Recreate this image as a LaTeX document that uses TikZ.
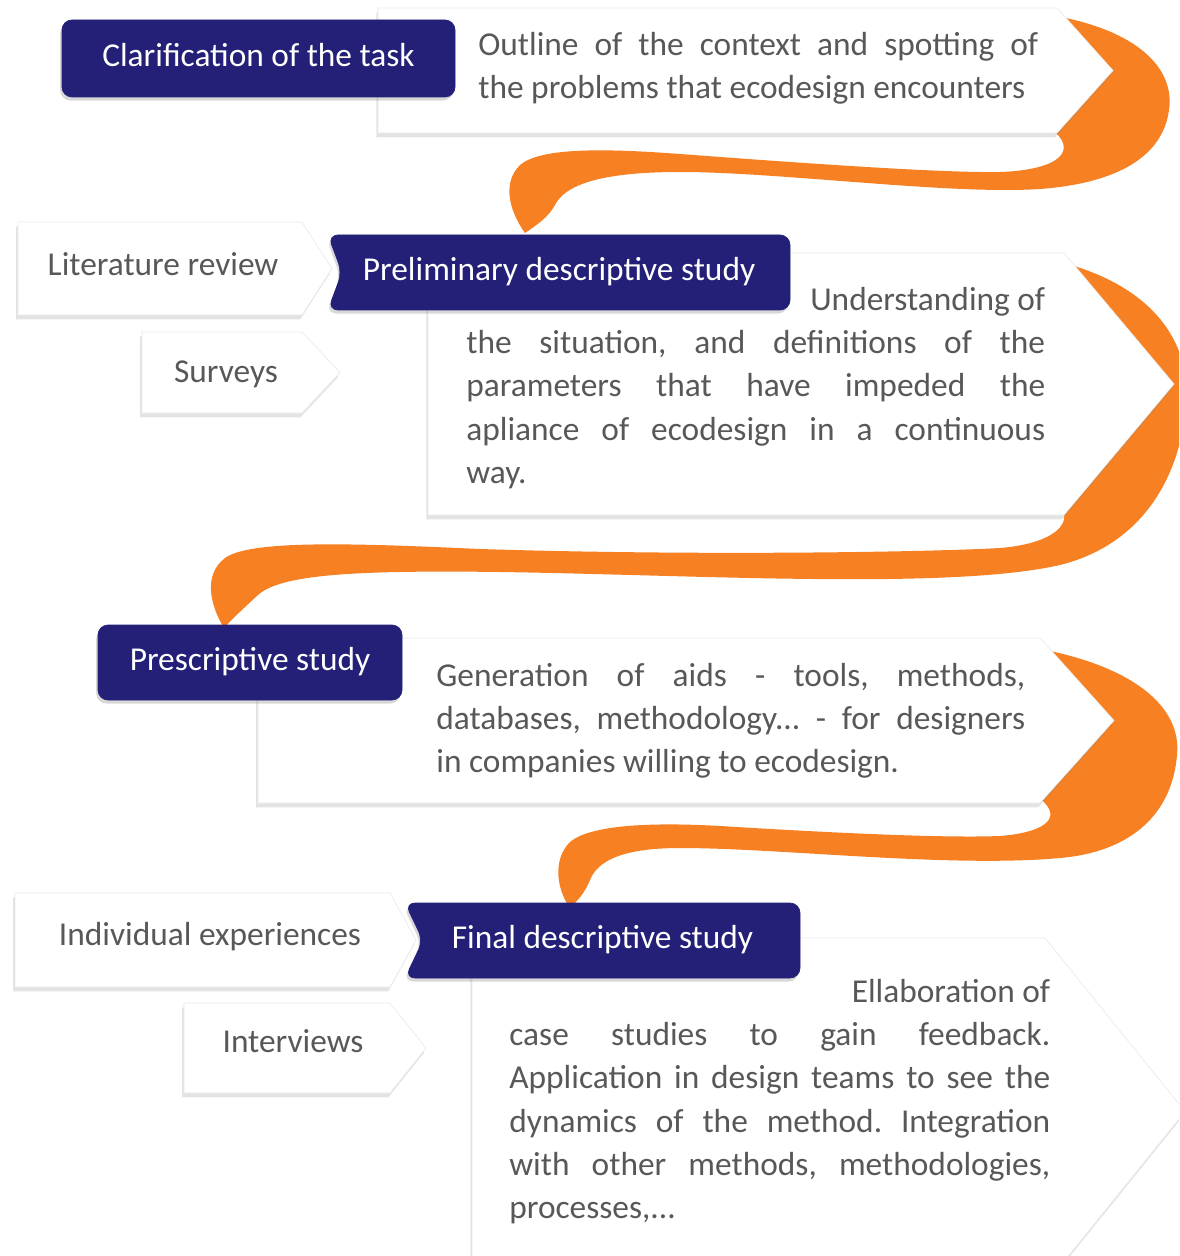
\documentclass[tikz,border=0pt]{standalone}
\usepackage{fontspec}
\setmainfont{Carlito}
\usetikzlibrary{positioning,shadows}
\tolerance=9999
\hbadness=10000
\frenchspacing
\tikzstyle{sheet} = [x = 0.02cm, y = -0.02cm]
\definecolor{stepColor}{RGB}{36,32,120}
\definecolor{ribbonColor}{RGB}{246,128,34}
\definecolor{textColor}{RGB}{88,88,88}
\tikzstyle{panelStyle} = [fill=white, draw=black!8, drop shadow={shadow xshift=-1pt, shadow yshift=-2.5pt, opacity=.22}]
\tikzstyle{stepBoxStyle} = [fill=stepColor, draw=stepColor, rounded corners=.2cm, drop shadow={shadow xshift=-1pt, shadow yshift=-2pt, opacity=.3}]
\tikzstyle{stepText} = [text=white, font=\fontsize{19}{23}\selectfont, inner sep=0pt, text height=13pt, text depth=4pt]
\tikzstyle{sideText} = [text=textColor, font=\fontsize{19}{23}\selectfont, inner sep=0pt, text height=13pt, text depth=4pt]
\tikzstyle{panelText} = [text=textColor, font=\fontsize{19}{24.6}\selectfont, align=justify, anchor=north west, inner sep=0pt]
\tikzstyle{ribbonStyle} = [fill=ribbonColor]
\newcommand{\whiteArrow}[5]{\filldraw [panelStyle] (#1,#2) -- (#3,#2) -- (#3+#5,{(#2+#4)/2}) -- (#3,#4) -- (#1,#4) -- cycle;}
\newcommand{\stepBox}[6]{\filldraw [stepBoxStyle] (#1,#2) rectangle (#3,#4) node [stepText, midway] (#5) {#6};}
\newcommand{\stepBoxNotch}[7]{\filldraw [stepBoxStyle] (#1+#7,{(#2+#4)/2}) -- (#1,#2) -- (#3,#2) -- (#3,#4) -- (#1,#4) -- cycle;
  \node [stepText] (#5) at ({(#1+#3)/2},{(#2+#4)/2}) {#6};}
\begin{document}
\begin{tikzpicture}[sheet]
  \useasboundingbox (0,0) rectangle (1179,1256);
  \clip (0,0) rectangle (1179,1256);
  \fill [white] (0,0) rectangle (1179,1256);

  \fill [ribbonStyle] (1050,15) .. controls (1140,30) and (1175,70) .. (1169,110)
    .. controls (1163,155) and (1120,183) .. (1040,189)
    .. controls (950,195) and (780,172) .. (680,172)
    .. controls (600,172) and (565,185) .. (555,205)
    .. controls (548,218) and (535,226) .. (525,233)
    .. controls (512,215) and (500,185) .. (520,165)
    .. controls (540,148) and (600,148) .. (680,154)
    .. controls (800,163) and (940,173) .. (1000,172)
    .. controls (1060,170) and (1080,150) .. (1050,128) -- cycle;
  \fill [ribbonStyle] (1060,262) .. controls (1150,285) and (1192,340) .. (1186,405)
    .. controls (1180,480) and (1140,545) .. (1060,565)
    .. controls (950,590) and (700,575) .. (500,572)
    .. controls (350,570) and (280,575) .. (258,595)
    .. controls (245,607) and (233,618) .. (224,628)
    .. controls (210,605) and (203,575) .. (225,558)
    .. controls (250,540) and (350,543) .. (480,549)
    .. controls (700,556) and (930,552) .. (1000,548)
    .. controls (1050,544) and (1075,525) .. (1060,505) -- cycle;
  \fill [ribbonStyle] (1035,648) .. controls (1130,665) and (1182,705) .. (1177,755)
    .. controls (1172,815) and (1130,852) .. (1060,858)
    .. controls (950,868) and (780,848) .. (680,848)
    .. controls (620,848) and (597,862) .. (590,880)
    .. controls (585,893) and (577,901) .. (570,908)
    .. controls (557,890) and (552,860) .. (570,842)
    .. controls (590,825) and (650,822) .. (720,826)
    .. controls (850,834) and (950,838) .. (1000,836)
    .. controls (1050,832) and (1065,815) .. (1035,795) -- cycle;

  \whiteArrow{378}{8}{1057}{133}{56}
  \whiteArrow{428}{253}{1064}{515}{110}
  \whiteArrow{258}{638}{1040}{803}{74}
  \whiteArrow{472}{938}{1045}{1285}{140}

  \stepBox{62}{20}{455}{97}{clarification}{Clarification of the task}
  \stepBoxNotch{328}{235}{790}{310}{preliminary}{Preliminary descriptive study}{14}
  \stepBox{98}{625}{402}{700}{prescriptive}{Prescriptive study}
  \stepBoxNotch{405}{903}{800}{978}{final}{Final descriptive study}{18}

  \whiteArrow{18}{222}{302}{315}{30}
  \whiteArrow{142}{332}{302}{413}{38}
  \whiteArrow{15}{893}{390}{987}{26}
  \whiteArrow{184}{1003}{390}{1093}{36}

  \node [sideText] (literature) at (163,268) {Literature review};
  \node [sideText] (surveys) at (226,375) {Surveys};
  \node [sideText] (individual) at (210,938) {Individual experiences};
  \node [sideText] (interviews) at (293,1045) {Interviews};

  \node [panelText, text width=11.2cm] (outline) at (478,32) {Outline of the context and spotting of\linebreak the problems that ecodesign encounters};
  \node [panelText, text width=11.58cm] (understanding) at (466,287) {\hfill Understanding of\linebreak the situation, and definitions of the\linebreak parameters that have impeded the\linebreak apliance of ecodesign in a continuous\linebreak way.};
  \node [panelText, text width=11.78cm] (generation) at (436,663) {Generation of aids - tools, methods,\linebreak databases, methodology... - for designers\linebreak in companies willing to ecodesign.};
  \node [panelText, text width=10.82cm] (elaboration) at (509,979) {\hfill Ellaboration of\linebreak case studies to gain feedback.\linebreak Application in design teams to see the\linebreak dynamics of the method. Integration\linebreak with other methods, methodologies,\linebreak processes,...};
\end{tikzpicture}
\end{document}
